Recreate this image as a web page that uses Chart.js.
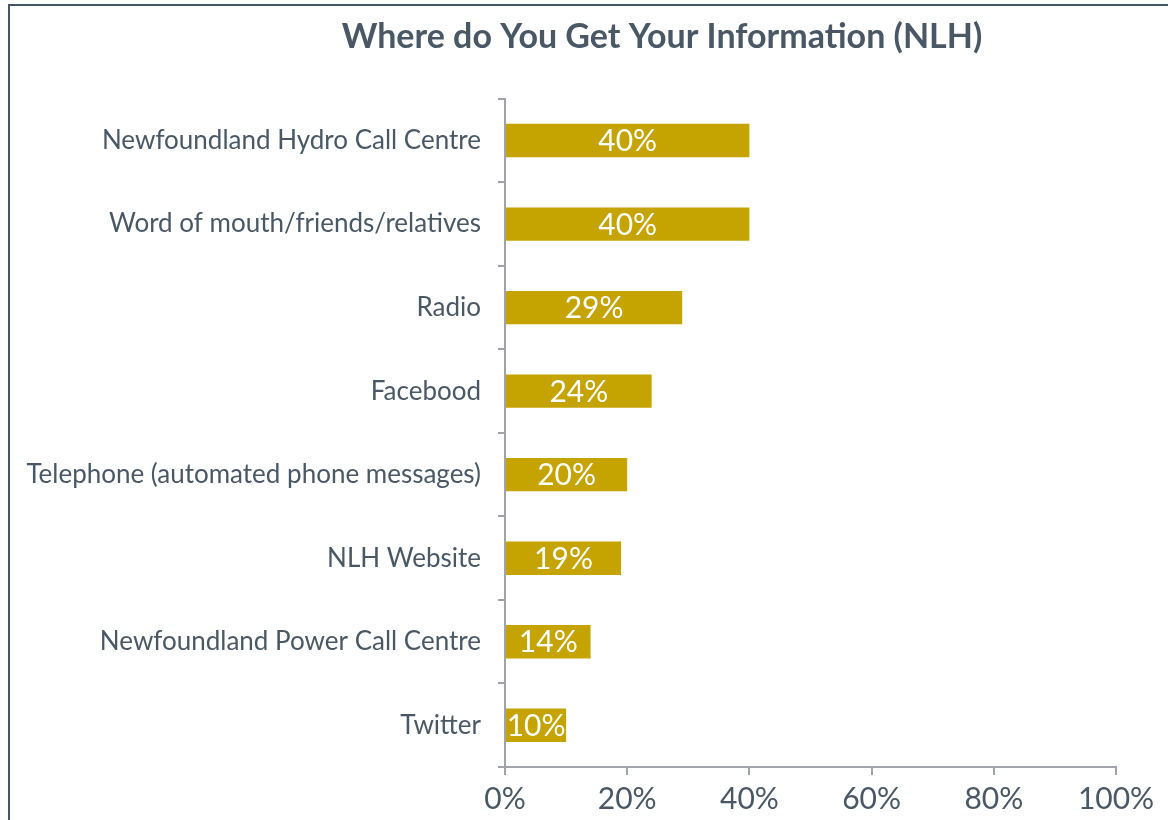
<!DOCTYPE html>
<html>
<head>
<meta charset="utf-8">
<script src="https://cdn.jsdelivr.net/npm/chart.js@4/dist/chart.umd.min.js"></script>
<style>
  html, body { margin: 0; padding: 0; background: #fff; overflow: hidden; width: 1168px; height: 820px; }
  .frame { position: absolute; left: 8px; top: 4px; width: 1400px; height: 1000px; border: 2px solid #44546a; }
  .frame canvas { position: absolute; left: 0; top: 0; }
</style>
</head>
<body>
<div class="frame">
  <canvas id="infoChart" width="1304" height="814"></canvas>
</div>
<script>
document.addEventListener('DOMContentLoaded', function () {
  // Sources of information, top to bottom
  const categories = [
    'Newfoundland Hydro Call Centre',
    'Word of mouth/friends/relatives',
    'Radio',
    'Facebood',
    'Telephone (automated phone messages)',
    'NLH Website',
    'Newfoundland Power Call Centre',
    'Twitter'
  ];
  const shares = [40, 40, 29, 24, 20, 19, 14, 10];
  const xTicks = [0, 20, 40, 60, 80, 100];

  const textColor = '#4a5866';
  const axisColor = '#a0a4a8';
  const fontFamily = 'Lato, "Open Sans", sans-serif';

  // Percent labels drawn in the middle of each bar
  const barLabels = {
    id: 'barLabels',
    afterDatasetsDraw (chart) {
      const ctx = chart.ctx;
      const meta = chart.getDatasetMeta(0);
      ctx.save();
      ctx.fillStyle = '#ffffff';
      ctx.font = '30px ' + fontFamily;
      ctx.textAlign = 'center';
      ctx.textBaseline = 'middle';
      meta.data.forEach((bar, i) => {
        ctx.fillText(shares[i] + '%', (bar.x + bar.base) / 2, bar.y + 1);
      });
      ctx.restore();
    }
  };

  // Centre the title over the whole canvas, not only the padded area
  const wideTitle = {
    id: 'wideTitle',
    afterLayout (chart) {
      if (chart.titleBlock) {
        chart.titleBlock.left = 0;
        chart.titleBlock.right = chart.width;
      }
    }
  };

  const ctx = document.getElementById('infoChart').getContext('2d');
  new Chart(ctx, {
    type: 'bar',
    data: {
      labels: categories,
      datasets: [{
        data: shares,
        backgroundColor: '#c5a300',
        barPercentage: 0.4,
        categoryPercentage: 1
      }]
    },
    options: {
      indexAxis: 'y',
      responsive: false,
      animation: false,
      layout: { padding: { left: 0, right: 198, top: 0, bottom: 0 } },
      plugins: {
        legend: { display: false },
        tooltip: { enabled: false },
        title: {
          display: true,
          text: 'Where do You Get Your Information (NLH)',
          color: textColor,
          font: { family: fontFamily, size: 34, weight: 'bold', lineHeight: 1.2 },
          padding: { top: 11, bottom: 41 }
        }
      },
      scales: {
        x: {
          min: 0,
          max: 100,
          afterBuildTicks: scale => { scale.ticks = xTicks.map(v => ({ value: v })); },
          afterFit: scale => { scale.height = 53; },
          border: { color: axisColor, width: 2 },
          grid: { drawOnChartArea: false, color: axisColor, lineWidth: 2, tickLength: 8 },
          ticks: {
            color: textColor,
            padding: 6,
            font: { family: fontFamily, size: 30 },
            callback: v => v + '%'
          }
        },
        y: {
          afterFit: scale => { scale.width = 495; },
          border: { color: axisColor, width: 2 },
          grid: { offset: true, drawOnChartArea: false, color: axisColor, lineWidth: 2, tickLength: 7 },
          ticks: {
            color: textColor,
            padding: 17,
            font: { family: fontFamily, size: 26 }
          }
        }
      }
    },
    plugins: [barLabels, wideTitle]
  });
});
</script>
</body>
</html>
